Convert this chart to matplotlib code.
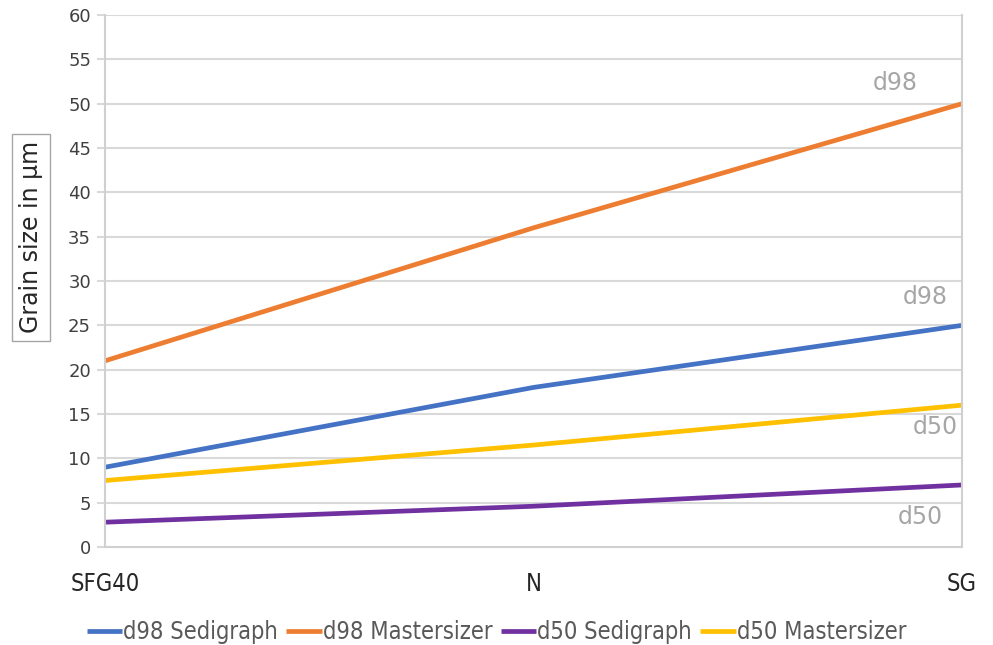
import matplotlib.pyplot as plt

# Sample groups along the x axis
samples = ["SFG40", "N", "SG"]

# Grain size values in µm
d98_sedigraph = [9, 18, 25]
d98_mastersizer = [21, 36, 50]
d50_sedigraph = [2.8, 4.6, 7]
d50_mastersizer = [7.5, 11.5, 16]

series = [
    ("d98 Sedigraph", d98_sedigraph, "#4472C4"),
    ("d98 Mastersizer", d98_mastersizer, "#ED7D31"),
    ("d50 Sedigraph", d50_sedigraph, "#7030A0"),
    ("d50 Mastersizer", d50_mastersizer, "#FFC000"),
]

# Free-floating labels next to the line ends: (text, x, y)
end_labels = [("d98", 1.844, 52.3), ("d98", 1.914, 28.2),
              ("d50", 1.937, 13.5), ("d50", 1.902, 3.4)]

fig = plt.figure(figsize=(9.93, 6.45), dpi=100)
ax = fig.add_axes([0.1057, 0.1519, 0.8631, 0.8248])

x = list(range(len(samples)))
for name, vals, color in series:
    ax.plot(x, vals, color=color, linewidth=3.4, label=name, solid_capstyle="butt")

ax.set_xlim(0, 2)
ax.set_ylim(0, 60)
ax.set_yticks(range(0, 61, 5))
ax.set_xticks(x)
ax.set_xticklabels(samples, fontsize=17, fontstretch="condensed", color="#262626")
ax.tick_params(axis="x", length=0, pad=18)
ax.tick_params(axis="y", length=6, color="#D9D9D9", width=1.5, labelsize=13,
               labelcolor="#404040", pad=4)

ax.grid(axis="y", color="#D9D9D9", linewidth=1.5)
ax.set_axisbelow(True)
ax.spines["top"].set_visible(False)
for side in ["left", "right", "bottom"]:
    ax.spines[side].set_color("#D0D0D0")
    ax.spines[side].set_linewidth(1.5)

for text, tx, ty in end_labels:
    ax.text(tx, ty, text, color="#A6A6A6", fontsize=17, ha="center", va="center")

fig.text(0.031, 0.632, "Grain size in µm", rotation=90, ha="center", va="center",
         fontsize=17, color="#262626",
         bbox=dict(boxstyle="square,pad=0.3", facecolor="white", edgecolor="#A6A6A6"))

leg = fig.legend(loc="center", bbox_to_anchor=(0.5, 0.02), ncol=4, frameon=False,
                 prop={"size": 17, "stretch": "condensed"}, handlelength=1.5,
                 handletextpad=0.05, columnspacing=0.35)
for t in leg.get_texts():
    t.set_color("#595959")

fig.savefig("out.png", dpi=100)
